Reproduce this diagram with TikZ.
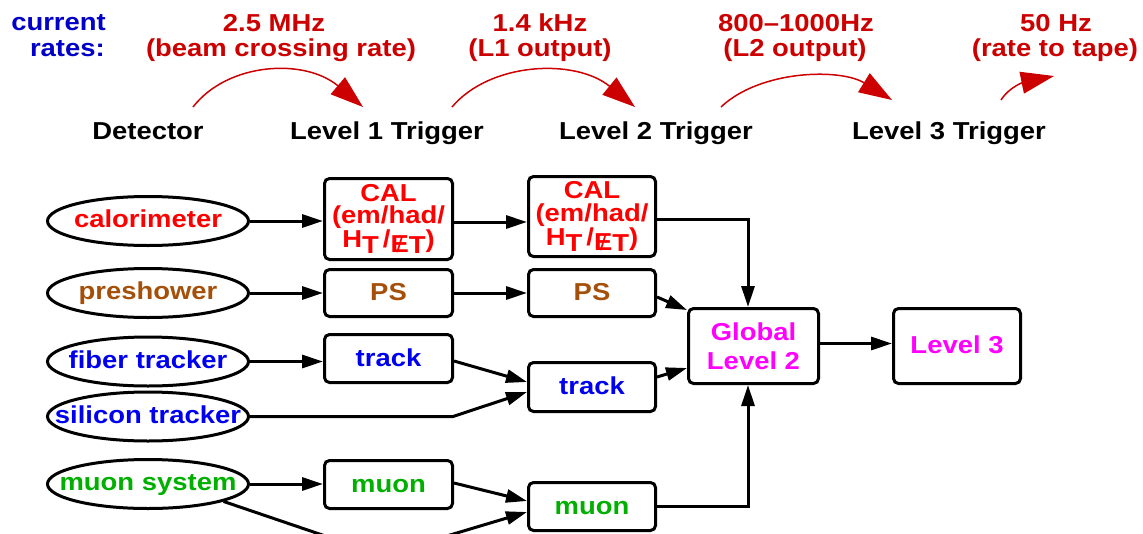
\documentclass[tikz,border=0pt]{standalone}
\usepackage{fontspec}
\setmainfont{Liberation Sans}[FakeStretch=1.12]
\usetikzlibrary{arrows.meta,calc,shapes.geometric}
\definecolor{rateRed}{RGB}{204,0,0}
\definecolor{calRed}{RGB}{255,0,0}
\definecolor{psBrown}{RGB}{165,80,10}
\definecolor{trkBlue}{RGB}{0,0,240}
\definecolor{muGreen}{RGB}{0,175,0}
\definecolor{curBlue}{RGB}{0,0,200}
\definecolor{glMag}{RGB}{255,0,255}
\newcommand\lowT{\raisebox{-6pt}{T}}
\newcommand\slashedE{\raisebox{-5pt}{\ooalign{E\cr\hidewidth{\mdseries\fontsize{22}{22}\selectfont/}\hidewidth\cr}}}
\begin{document}
\begin{tikzpicture}[x=1pt,y=-1pt,
  every node/.style={font=\fontsize{24.5}{22.5}\selectfont\bfseries, inner sep=0pt},
  box/.style={draw, line width=3pt, rounded corners=5pt, align=center},
  one/.style={text height=18pt, text depth=3pt},
  ell/.style={draw, line width=3pt, ellipse, minimum width=201pt, minimum height=49pt, text height=18pt, text depth=5pt},
  arr/.style={line width=3pt, -{Triangle[length=21pt,width=13pt]}},
  rarc/.style={rateRed, line width=1.5pt, -{Triangle[length=33pt,width=22pt]}},
  rate/.style={text=rateRed, anchor=base},
  lvl/.style={anchor=base}]
\useasboundingbox (0,0) rectangle (1143,533);

% rates
\node[anchor=base east, text=curBlue] (cur1) at (106,30) {current};
\node[anchor=base east, text=curBlue] (cur2) at (105,56) {rates:};
\node[rate] (r1a) at (274,31) {2.5 MHz};
\node[rate] (r1b) at (281,56) {(beam crossing rate)};
\node[rate] (r2a) at (540,31) {1.4 kHz};
\node[rate] (r2b) at (540,56) {(L1 output)};
\node[rate] (r3a) at (796,31) {800–1000Hz};
\node[rate] (r3b) at (795,56) {(L2 output)};
\node[rate] (r4a) at (1056,31) {50 Hz};
\node[rate] (r4b) at (1055,56) {(rate to tape)};

% level labels
\node[lvl] (det) at (148,139) {Detector};
\node[lvl] (l1) at (387,139) {Level 1 Trigger};
\node[lvl] (l2) at (656,139) {Level 2 Trigger};
\node[lvl] (l3) at (949,139) {Level 3 Trigger};

% red arcs
\coordinate (a1s) at (193,107); \coordinate (a1e) at (363,107);
\coordinate (a2s) at (452,107); \coordinate (a2e) at (635,107);
\coordinate (a3s) at (721,107); \coordinate (a3e) at (892,100);
\coordinate (a4s) at (1001,100); \coordinate (a4e) at (1054,76);
\draw[rarc] (a1s) .. controls (228,62) and (305,58) .. (a1e);
\draw[rarc] (a2s) .. controls (490,62) and (575,58) .. (a2e);
\draw[rarc] (a3s) .. controls (760,70) and (840,68) .. (a3e);
\draw[rarc] (a4s) .. controls (1010,86) and (1025,82) .. (a4e);

% detector ellipses
\node[ell, text=calRed] (calo) at (148,221) {\makebox[0pt]{calorimeter}};
\node[ell, text=psBrown] (pres) at (148,293) {\makebox[0pt]{preshower}};
\node[ell, text=trkBlue] (fib) at (148,361.5) {\makebox[0pt]{fiber tracker}};
\node[ell, text=trkBlue] (sil) at (148,416.5) {\makebox[0pt]{silicon tracker}};
\node[ell, text=muGreen] (muon) at (148,484) {\makebox[0pt]{muon system}};

% level 1 boxes
\node[box, text=calRed, minimum width=128pt, minimum height=81pt] (cal1) at (388.5,219) {CAL\\(em/had/\\H\lowT\,/\slashedE\lowT)};
\node[box, one, text=psBrown, minimum width=128pt, minimum height=47pt] (ps1) at (388.5,293) {PS};
\node[box, one, text=trkBlue, minimum width=128pt, minimum height=48pt] (trk1) at (388.5,358.5) {track};
\node[box, one, text=muGreen, minimum width=128pt, minimum height=48pt] (mu1) at (388.5,484.5) {muon};

% level 2 boxes
\node[box, text=calRed, minimum width=127pt, minimum height=80pt] (cal2) at (592,216.5) {CAL\\(em/had/\\H\lowT\,/\slashedE\lowT)};
\node[box, one, text=psBrown, minimum width=127pt, minimum height=47pt] (ps2) at (592,293) {PS};
\node[box, one, text=trkBlue, minimum width=127pt, minimum height=49pt] (trk2) at (592,387) {track};
\node[box, one, text=muGreen, minimum width=127pt, minimum height=48pt] (mu2) at (592,506.5) {muon};

\node[box, text=glMag, font=\fontsize{24.5}{28.5}\selectfont\bfseries, minimum width=130pt, minimum height=75pt] (glob) at (753.5,346) {Global\\Level 2};
\node[box, one, text=glMag, minimum width=127pt, minimum height=75pt] (lv3) at (957,346) {Level 3};

% connectors
\draw[arr] (calo.east) -- (calo.east -| cal1.west);
\draw[arr] ($(cal1.east)+(0,3)$) coordinate (c12) -- (c12 -| cal2.west);
\draw[arr] ($(cal2.east)+(0,2.5)$) -| ($(glob.north)+(-5.5,0)$);
\draw[arr] (pres.east) -- (ps1.west);
\draw[arr] (ps1.east) -- (ps2.west);
\draw[arr] ($(ps2.east)+(0,4)$) -- ($(glob.north west)+(0,3)$);
\draw[arr] (fib.east) -- (fib.east -| trk1.west);
\draw[arr] ($(trk1.east)+(0,2.5)$) -- ($(trk2.west)+(0,-5)$);
\coordinate (sb) at (453,416.5);
\draw[arr] (sil.east) -- (sb) -- ($(trk2.west)+(0,5)$);
\draw[arr] ($(trk2.east)+(0,-10)$) -- ($(glob.west)+(0,22)$);
\draw[arr] (muon.east) -- (muon.east -| mu1.west);
\draw[arr] ($(mu1.east)+(0,-1.5)$) -- ($(mu2.west)+(0,-5.5)$);
\coordinate (hb1) at (340,541); \coordinate (hb2) at (430,541);
\draw[arr] (muon.-13) -- (hb1) -- (hb2) -- ($(mu2.west)+(0,5.5)$);
\draw[arr] (mu2.east) -| ($(glob.south)+(-5.5,0)$);
\draw[arr] ($(glob.east)+(0,-2.5)$) -- ($(lv3.west)+(0,-2.5)$);
\end{tikzpicture}
\end{document}
